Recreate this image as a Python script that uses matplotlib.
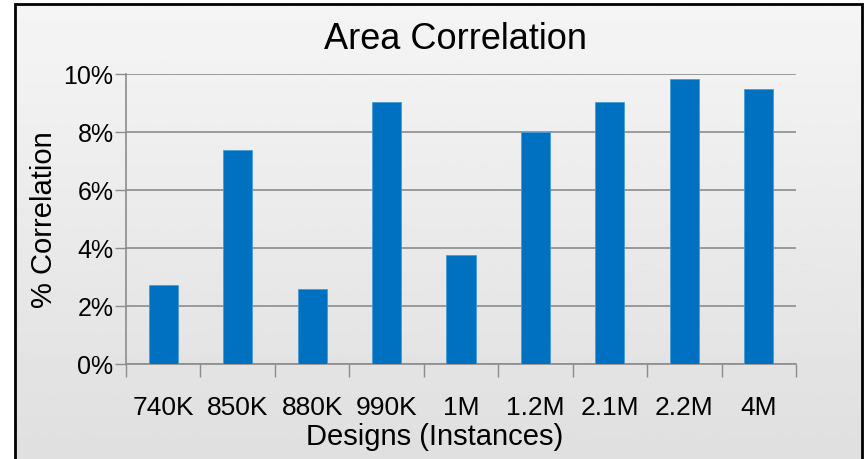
import numpy as np
import matplotlib.pyplot as plt
from matplotlib.patches import Rectangle
from matplotlib.ticker import PercentFormatter

designs = ['740K', '850K', '880K', '990K', '1M', '1.2M', '2.1M', '2.2M', '4M']
correlation = [2.73, 7.38, 2.57, 9.02, 3.75, 8.0, 9.02, 9.82, 9.5]

plt.rcParams['font.family'] = ['Liberation Sans', 'DejaVu Sans']

fig = plt.figure(figsize=(8.68, 4.6), dpi=100)

# chart frame with a light grey vertical gradient
bg = fig.add_axes([0, 0, 1, 1], zorder=-2)
bg.axis('off')
bg.set_xlim(0, 1)
bg.set_ylim(0, 1)
gradient = np.linspace(0.875, 0.96, 256).reshape(-1, 1)
bg.imshow(gradient, cmap='gray', vmin=0, vmax=1, aspect='auto',
          extent=[15 / 868, 862 / 868, 0, 1 - 5 / 460], origin='lower')
bg.add_patch(Rectangle((15 / 868, -0.05), (862 - 15) / 868, 1.05 - 5 / 460,
                       fill=False, edgecolor='black', linewidth=2))

ax = fig.add_axes([126 / 868, 1 - 365 / 460, (796 - 126) / 868, (365 - 75) / 460])
ax.set_facecolor('none')

x = np.arange(len(designs))
ax.bar(x, correlation, width=0.39, color='#0070C0', edgecolor='#4A9AD6',
       linewidth=0.6, zorder=3)

ax.set_xlim(-0.5, len(designs) - 0.5)
ax.set_ylim(0, 10)
ax.set_yticks(np.arange(0, 11, 2))
ax.yaxis.set_major_formatter(PercentFormatter(decimals=0))
ax.grid(axis='y', color='#8C8C8C', linewidth=1.2, zorder=1)

ax.set_xticks(x)
ax.set_xticklabels(designs)
ax.set_xticks(np.arange(-0.5, len(designs), 1), minor=True)
ax.tick_params(axis='x', which='major', length=0, pad=22, labelsize=19)
ax.tick_params(axis='x', which='minor', length=9, width=1, color='#8C8C8C', direction='out')
ax.tick_params(axis='y', length=8, width=1, color='#8C8C8C', labelsize=18, pad=1)

for side in ['top', 'right']:
    ax.spines[side].set_visible(False)
ax.spines['left'].set_color('#8C8C8C')
ax.spines['bottom'].set_color('#8C8C8C')
ax.spines['left'].set_linewidth(1.2)
ax.spines['bottom'].set_linewidth(1.2)

fig.text(456 / 868, 1 - 40 / 460, 'Area Correlation', fontsize=26,
         ha='center', va='center')
ax.set_ylabel('% Correlation', fontsize=21, va='center')
ax.yaxis.set_label_coords(-(126 - 44) / 670, (365 - 220) / 290)
ax.set_xlabel('Designs (Instances)', fontsize=21, va='center')
ax.xaxis.set_label_coords((435 - 126) / 670, -(437 - 365) / 290)

fig.savefig('out.png', dpi=100)
